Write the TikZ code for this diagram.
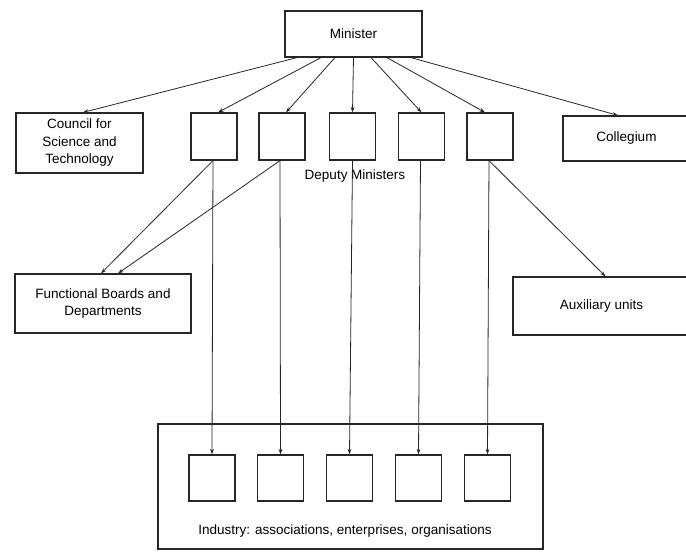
\documentclass[tikz,border=0pt]{standalone}
\usepackage{fontspec}
\setmainfont{Liberation Sans}
\usetikzlibrary{arrows.meta}
\begin{document}
\begin{tikzpicture}[x=1pt,y=-1pt,
  box/.style={draw=black!85, line width=1.2pt, rectangle, inner sep=0pt, align=center, font=\fontsize{13.5}{17.5}\selectfont},
  sq/.style={box, minimum width=46pt, minimum height=47pt},
  conn/.style={draw=black!85, line width=0.8pt, -{Stealth[length=5.5pt,width=3.8pt]}},
  lbl/.style={font=\fontsize{13.5}{18}\selectfont, inner sep=0pt}]
\useasboundingbox (0,0) rectangle (686,552);
% top level
\node[box, minimum width=137pt, minimum height=46pt] (min) at (353.5,34) {Minister};
\node[box, minimum width=127pt, minimum height=60pt] (csc) at (79.5,143) {Council for\\Science and\\Technology};
\node[sq] (d1) at (214,136.5) {};
\node[sq] (d2) at (282,136.5) {};
\node[sq] (d3) at (352.5,136.5) {};
\node[sq] (d4) at (421.5,136.5) {};
\node[sq] (d5) at (490,136.5) {};
\node[box, minimum width=127pt, minimum height=45pt] (col) at (626.5,138.5) {Collegium};
\node[lbl] (dml) at (355,176) {Deputy Ministers};
% middle level
\node[box, minimum width=176pt, minimum height=59pt] (fbd) at (103,303.5) {Functional Boards and\\Departments};
\node[box, minimum width=177pt, minimum height=58pt] (aux) at (601.5,306) {Auxiliary units};
% industry
\node[box, minimum width=385pt, minimum height=125pt] (ind) at (350.5,486.5) {};
\node[sq, minimum height=46pt] (i1) at (212,478) {};
\node[sq, minimum height=46pt] (i2) at (280.5,478) {};
\node[sq, minimum height=46pt] (i3) at (349.5,478) {};
\node[sq, minimum height=46pt] (i4) at (418.5,478) {};
\node[sq, minimum height=46pt] (i5) at (487.5,478) {};
\node[lbl] (indl) at (345,531) {Industry: associations, enterprises, organisations};
% connectors from Minister
\draw[conn] ([xshift=-56.5pt]min.south) -- ([xshift=3.5pt]csc.north);
\draw[conn] ([xshift=-32.5pt]min.south) -- ([xshift=4pt]d1.north);
\draw[conn] ([xshift=-18.5pt]min.south) -- ([xshift=4pt]d2.north);
\draw[conn] (min.south) -- (d3.north);
\draw[conn] ([xshift=17.5pt]min.south) -- (d4.north);
\draw[conn] ([xshift=33.5pt]min.south) -- ([xshift=-5pt]d5.north);
\draw[conn] ([xshift=57.5pt]min.south) -- ([xshift=-8.5pt]col.north);
% connectors from deputies
\draw[conn] ([xshift=-1pt]d1.south) -- (i1.north);
\draw[conn] ([xshift=-1pt]d1.south) -- ([xshift=-2pt]fbd.north);
\draw[conn] ([xshift=-2pt]d2.south) -- (i2.north);
\draw[conn] ([xshift=-2pt]d2.south) -- ([xshift=15pt]fbd.north);
\draw[conn] (d3.south) -- (i3.north);
\draw[conn] ([xshift=-1pt]d4.south) -- (i4.north);
\draw[conn] ([xshift=-1pt]d5.south) -- (i5.north);
\draw[conn] ([xshift=-1pt]d5.south) -- ([xshift=4pt]aux.north);
\end{tikzpicture}
\end{document}
